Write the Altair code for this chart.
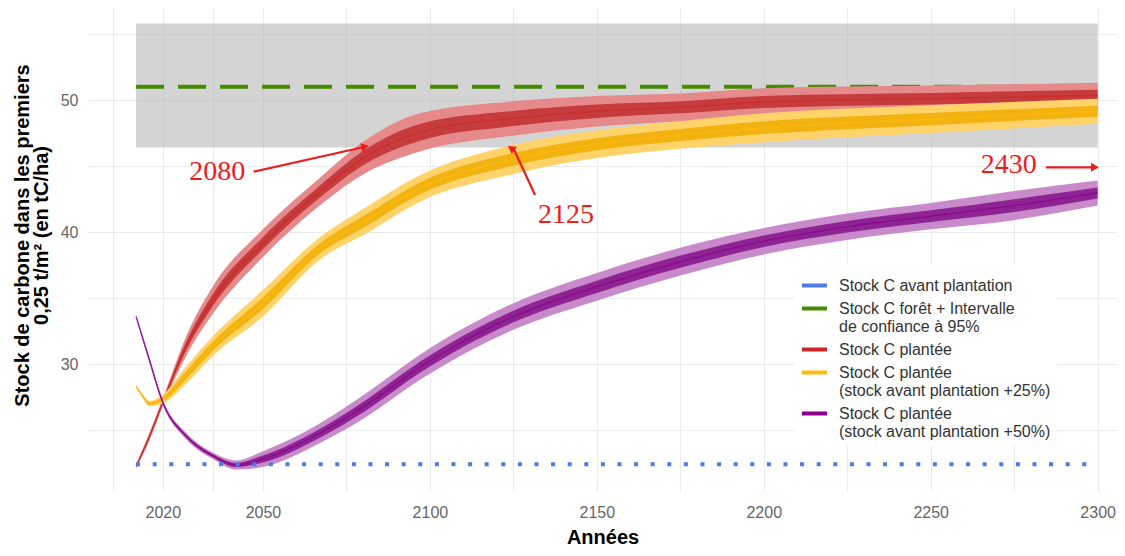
import altair as alt
import pandas as pd

# ---------------- data ----------------
red_years = [2012, 2016, 2020, 2027, 2035, 2050, 2067, 2081, 2097, 2125, 2150, 2175, 2200, 2250, 2300]
red_low = [22.1, 24.2, 26.8, 30.6, 33.8, 38.1, 42.0, 44.5, 46.1, 47.3, 48.0, 48.4, 48.8, 49.1, 49.4]
red_high = [22.4, 24.8, 27.4, 32.1, 35.9, 40.2, 44.1, 47.0, 49.0, 49.9, 50.3, 50.5, 50.9, 51.1, 51.3]

orange_years = [2012, 2014, 2016, 2020, 2027, 2035, 2050, 2067, 2081, 2097, 2125, 2150, 2175, 2200, 2250, 2300]
orange_low = [28.2, 27.4, 26.8, 27.0, 28.5, 30.6, 33.6, 37.9, 39.9, 42.3, 44.4, 45.6, 46.3, 46.8, 47.5, 48.2]
orange_high = [28.4, 27.7, 27.2, 27.7, 29.8, 32.1, 35.6, 39.6, 41.9, 44.3, 46.6, 47.7, 48.4, 49.0, 49.6, 50.1]

purple_years = [2012, 2016, 2020, 2027, 2035, 2042, 2050, 2067, 2081, 2097, 2125, 2150, 2175, 2200, 2225, 2250, 2275, 2300]
purple_low = [33.5, 30.1, 26.9, 24.3, 22.8, 22.0, 22.2, 24.0, 26.0, 28.8, 32.6, 34.8, 36.7, 38.3, 39.4, 40.2, 40.9, 42.0]
purple_high = [33.7, 30.5, 27.3, 24.8, 23.3, 22.7, 23.4, 25.5, 27.8, 30.7, 34.6, 36.9, 38.8, 40.3, 41.4, 42.2, 43.1, 43.9]

ref_years = [2012, 2300]
stock_before = 22.4
forest_mean = 51.0
forest_ci_low = 46.4
forest_ci_high = 55.8

ann_labels = ["2080", "2125", "2430"]
ann_text_x = [2036.3, 2140.8, 2273.4]
ann_text_y = [44.57, 41.29, 45.08]
arrow_x0 = [2047.2, 2131.5, 2284.5]
arrow_y0 = [44.57, 42.8, 44.9]
arrow_x1 = [2080.6, 2125.0, 2299.2]
arrow_y1 = [46.46, 46.34, 44.9]
arrow_angle = [347, 335, 0]

x_major = [2020, 2050, 2100, 2150, 2200, 2250, 2300]
x_all = [2005, 2020, 2035, 2050, 2075, 2100, 2125, 2150, 2175, 2200, 2225, 2250, 2275, 2300]
y_major = [30, 40, 50]
y_all = [25, 30, 35, 40, 45, 50, 55]

S_BLUE = "Stock C avant plantation"
S_GREEN = "Stock C forêt + Intervalle\nde confiance à 95%"
S_RED = "Stock C plantée"
S_ORANGE = "Stock C plantée\n(stock avant plantation +25%)"
S_PURPLE = "Stock C plantée\n(stock avant plantation +50%)"
legend_names = [S_BLUE, S_GREEN, S_RED, S_ORANGE, S_PURPLE]
legend_colors = ["#4a7be6", "#458B00", "#CD2626", "#FFB90F", "#8B008B"]

# ---------------- tables ----------------
series_df = pd.concat([
    pd.DataFrame({"series": S_RED, "year": red_years, "lo": red_low, "hi": red_high}),
    pd.DataFrame({"series": S_ORANGE, "year": orange_years, "lo": orange_low, "hi": orange_high}),
    pd.DataFrame({"series": S_PURPLE, "year": purple_years, "lo": purple_low, "hi": purple_high}),
], ignore_index=True)

ref_df = pd.DataFrame({
    "year": ref_years,
    "before": [stock_before] * len(ref_years),
    "mean": [forest_mean] * len(ref_years),
    "ci_lo": [forest_ci_low] * len(ref_years),
    "ci_hi": [forest_ci_high] * len(ref_years),
})

ann_df = pd.DataFrame({
    "label": ann_labels, "tx": ann_text_x, "ty": ann_text_y,
    "x0": arrow_x0, "y0": arrow_y0, "x1": arrow_x1, "y1": arrow_y1,
    "angle": arrow_angle,
})

# ---------------- scales / axes ----------------
FONT = "Liberation Sans"
XDOM = [1997.6, 2305.8]
YDOM = [20.38, 56.97]

x_axis = alt.Axis(
    values=x_all, format="d",
    labelExpr="indexof(%s, datum.value) >= 0 ? datum.label : ''" % str(x_major),
    title="Années", grid=True, gridColor="#ebebeb", gridWidth=1.1,
    ticks=False, domain=False, labelOverlap=False, labelFlush=False,
    labelFont=FONT, labelFontSize=16, labelColor="#666666", labelPadding=13,
    titleFont=FONT, titleFontSize=20, titleFontWeight="bold", titleColor="#000000",
    titleY=52, titleBaseline="alphabetic",
)
y_axis = alt.Axis(
    values=y_all,
    labelExpr="indexof(%s, datum.value) >= 0 ? datum.label : ''" % str(y_major),
    title=["Stock de carbone dans les premiers", "0,25 t/m² (en tC/ha)"],
    grid=True, gridColor="#ebebeb", gridWidth=1.1,
    ticks=False, domain=False, labelOverlap=False, labelFlush=False,
    labelFont=FONT, labelFontSize=16, labelColor="#666666", labelPadding=10,
    titleFont=FONT, titleFontSize=20, titleFontWeight="bold", titleColor="#000000",
    titleAngle=270, titleX=-76, titleY=227, titleAlign="center", titleBaseline="top",
    titleLineHeight=19,
)


def X(f):
    return alt.X(f"{f}:Q", scale=alt.Scale(domain=XDOM, nice=False, zero=False), axis=x_axis)


def Y(f):
    return alt.Y(f"{f}:Q", scale=alt.Scale(domain=YDOM, nice=False, zero=False), axis=y_axis)


legend = alt.Legend(
    orient="none", legendX=706, legendY=257, direction="vertical", title=None,
    symbolType="stroke", symbolSize=625, symbolStrokeWidth=4, symbolOpacity=1,
    labelFont=FONT, labelFontSize=16, labelColor="#333333", labelLimit=400,
    labelExpr="split(datum.label, '\\n')", labelOffset=10,
    fillColor="#ffffff", padding=6, rowPadding=0,
)
color_enc = alt.Color("series:N", scale=alt.Scale(domain=legend_names, range=legend_colors), legend=legend)

base_ref = alt.Chart(ref_df)
band = base_ref.mark_area(color="#aaaaaa", opacity=0.5).encode(x=X("year"), y=Y("ci_lo"), y2="ci_hi")
green = base_ref.mark_line(color="#458B00", strokeWidth=4, strokeDash=[28, 14]).encode(x=X("year"), y=Y("mean"))
blue = base_ref.mark_line(color="#4a7be6", strokeWidth=4, strokeDash=[4, 12.6], strokeCap="butt").encode(
    x=X("year"), y=Y("before"))

styles = {
    S_RED: ("#e6898b", "#bf2f2f"),
    S_ORANGE: ("#ffd36a", "#f0ad00"),
    S_PURPLE: ("#c98acb", "#84108a"),
}

layers = [band, green]
for s in [S_RED, S_ORANGE, S_PURPLE]:
    light, dark = styles[s]
    b = alt.Chart(series_df).transform_filter(alt.datum.series == s).transform_calculate(
        mid="(datum.lo + datum.hi) / 2",
        clo="datum.lo + 0.28 * (datum.hi - datum.lo)",
        chi="datum.hi - 0.28 * (datum.hi - datum.lo)",
    )
    layers.append(b.mark_area(color=light, interpolate="monotone").encode(x=X("year"), y=Y("lo"), y2="hi"))
    layers.append(b.mark_area(color=dark, interpolate="monotone", opacity=0.85).encode(
        x=X("year"), y=Y("clo"), y2="chi"))
    layers.append(b.mark_line(strokeWidth=1.5, interpolate="monotone", opacity=0.7).encode(
        x=X("year"), y=Y("mid"), color=color_enc))
layers.append(blue)

ann = alt.Chart(ann_df)
layers.append(ann.mark_rule(color="#ee1c1c", strokeWidth=2.2).encode(x=X("x0"), y=Y("y0"), x2="x1", y2="y1"))
layers.append(ann.mark_point(shape="triangle-right", filled=True, size=80, color="#ee1c1c", opacity=1).encode(
    x=X("x1"), y=Y("y1"), angle=alt.Angle("angle:Q", scale=None)))
layers.append(ann.mark_text(font="Liberation Serif", fontSize=28, color="#ee1c1c", align="center",
                            baseline="middle").encode(x=X("tx"), y=Y("ty"), text="label:N"))

chart = alt.layer(*layers).properties(
    width=1029, height=483,
    autosize=alt.AutoSizeParams(type="none"),
    padding={"left": 80, "top": 0, "right": 0, "bottom": 57},
).configure_view(stroke="transparent")

chart.save("out.html", embed_options={"renderer": "svg", "actions": False})
